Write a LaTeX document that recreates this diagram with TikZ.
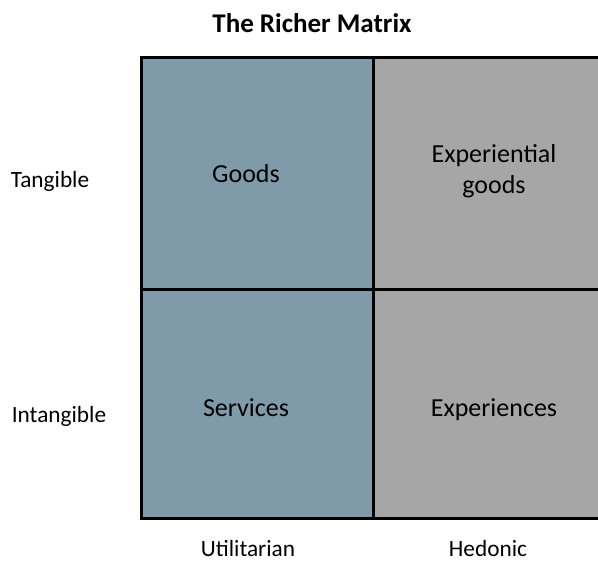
\documentclass[tikz,border=0pt]{standalone}
\usepackage{fontspec}
\setmainfont{Carlito}
\definecolor{cellblue}{RGB}{127,155,170}
\definecolor{cellgray}{RGB}{166,166,166}
\tikzset{
  celltext/.style={anchor=base, font=\fontsize{26}{31}\selectfont, align=center, inner sep=0pt},
  axislabel/.style={anchor=base, font=\fontsize{23.3}{28}\selectfont, inner sep=0pt},
  gridline/.style={line width=3pt, black},
}
\begin{document}
\begin{tikzpicture}[x=1pt,y=-1pt]
\useasboundingbox (0,0) rectangle (598,563);
\begin{scope}
\clip (0,0) rectangle (598,563);
\fill[cellblue] (141.5,57.5) rectangle (373.5,518.5);
\fill[cellgray] (373.5,57.5) rectangle (620,518.5);
\draw[gridline] (620,57.5) -- (141.5,57.5) -- (141.5,518.5) -- (620,518.5);
\draw[gridline] (373.5,57.5) -- (373.5,518.5);
\draw[gridline] (141.5,289.5) -- (620,289.5);
\end{scope}
\node[anchor=base, font=\bfseries\fontsize{27}{32}\selectfont, inner sep=0pt] (title) at (312,32) {The Richer Matrix};
\node[celltext] (goods) at (246,182) {Goods};
\node[celltext] (expgoods) at (494,162) {Experiential};
\node[celltext] (expgoods2) at (494,193) {goods};
\node[celltext] (services) at (246,416) {Services};
\node[celltext] (experiences) at (494,416) {Experiences};
\node[axislabel] (tangible) at (50,187) {Tangible};
\node[axislabel] (intangible) at (59,422) {Intangible};
\node[axislabel] (util) at (248,556) {Utilitarian};
\node[axislabel] (hedonic) at (488,556) {Hedonic};
\end{tikzpicture}
\end{document}
